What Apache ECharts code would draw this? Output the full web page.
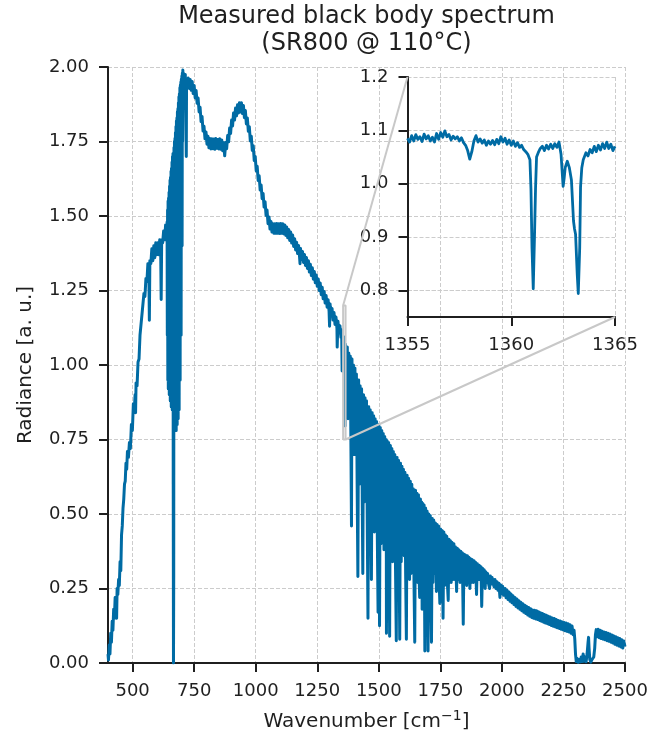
<!DOCTYPE html>
<html><head><meta charset="utf-8">
<script src="https://cdn.jsdelivr.net/npm/echarts@6/dist/echarts.min.js"></script>
<style>html,body{margin:0;padding:0;background:#fff}#c{width:649px;height:740px}</style>
</head><body><div id="c"></div>
<script>
// ---------------- data (wavenumber [cm-1], radiance [a.u.]) ----------------
const xTickValues = [500, 750, 1000, 1250, 1500, 1750, 2000, 2250, 2500];
const insetXTickValues = [1355, 1360, 1365];
const insetYTickValues = [0.8, 0.9, 1.0, 1.1, 1.2];
const zoomWindowWn = [1355, 1365];
const zoomWindowRad = [0.75, 1.2];

const spectrumRise = [[400,0.03],[402,0.01],[405,0.06],[408,0.03],[411,0.10],[414,0.07],[417,0.14],[420,0.11],[423,0.18],[426,0.15],[429,0.22],[432,0.19],[435,0.15],[437,0.25],[440,0.23],[443,0.28],[446,0.26],[449,0.34],[452,0.31],[455,0.43],[458,0.46],[461,0.52],[464,0.55],[467,0.60],[470,0.61],[473,0.67],[476,0.65],[479,0.71],[483,0.69],[487,0.74],[491,0.72],[495,0.80],[499,0.78],[503,0.87],[507,0.85],[510,0.90],[512,0.84],[514,0.94],[518,0.93],[522,1.01],[526,1.02],[530,1.10],[534,1.10],[538,1.17],[542,1.17],[546,1.24],[550,1.23],[554,1.29],[558,1.28],[562,1.34],[566,1.31],[568,1.15],[570,1.35],[574,1.34],[578,1.39],[582,1.35],[586,1.40],[590,1.36],[594,1.41],[598,1.37],[602,1.41],[606,1.37],[610,1.42],[614,1.38],[616,1.22],[618,1.42],[622,1.41],[626,1.45],[630,1.42],[634,1.47],[638,1.44]];

const spectrumCO2Bend = [[640,1.48],[641,1.10],[642,1.52],[643,0.95],[644,1.55],[645,0.92],[646,1.56],[647,1.20],[648,1.58],[649,0.90],[650,1.60],[651,1.00],[652,1.62],[653,0.88],[654,1.63],[655,1.05],[656,1.65],[657,0.86],[658,1.66],[659,1.10],[660,1.68],[661,0.85],[662,1.70],[663,0.95],[664,1.71],[665,0.60],[666,0.00],[667,0.30],[668,1.73],[669,0.82],[670,1.75],[671,0.90],[672,1.76],[673,0.80],[674,1.78],[675,1.00],[676,1.80],[677,0.78],[678,1.82],[679,0.95],[680,1.83],[681,0.80],[682,1.85],[683,1.05],[684,1.86],[685,0.82],[686,1.88],[687,1.10],[688,1.90],[689,0.85],[690,1.91],[691,1.20],[692,1.93],[693,0.95],[694,1.94],[695,1.35],[696,1.95],[697,1.10],[698,1.96],[699,1.55],[700,1.97],[701,1.40],[702,1.98],[703,1.75],[704,1.99],[705,1.90]];

const spectrumPeaks = [[706,1.980],[710,1.946],[714,1.975],[718,1.700],[719,1.950],[722,1.936],[726,1.963],[730,1.928],[734,1.958],[738,1.922],[742,1.951],[746,1.911],[750,1.938],[754,1.896],[758,1.921],[762,1.878],[766,1.896],[770,1.849],[774,1.865],[778,1.817],[782,1.834],[786,1.785],[790,1.801],[794,1.759],[798,1.782],[802,1.741],[806,1.768],[810,1.729],[814,1.760],[818,1.725],[822,1.759],[826,1.726],[830,1.758],[834,1.724],[838,1.760],[842,1.727],[846,1.757],[850,1.725],[854,1.759],[858,1.724],[862,1.755],[866,1.719],[870,1.746],[874,1.702],[878,1.747],[882,1.726],[886,1.770],[890,1.749],[894,1.795],[898,1.777],[902,1.822],[906,1.802],[910,1.846],[914,1.822],[918,1.862],[922,1.836],[926,1.873],[930,1.846],[934,1.880],[938,1.849],[942,1.880],[946,1.844],[950,1.871],[954,1.830],[958,1.854],[962,1.809],[966,1.829],[970,1.784],[974,1.800],[978,1.752],[982,1.768],[986,1.720],[990,1.736],[994,1.686],[998,1.700],[1002,1.651],[1006,1.667],[1010,1.619],[1014,1.635],[1018,1.587],[1022,1.604],[1026,1.558],[1030,1.576],[1034,1.530],[1038,1.548],[1042,1.502],[1046,1.520],[1050,1.474],[1054,1.497],[1058,1.456],[1062,1.482],[1066,1.446],[1070,1.474],[1074,1.442],[1078,1.474],[1082,1.442],[1086,1.475],[1090,1.442],[1094,1.474],[1098,1.441],[1102,1.475],[1106,1.442],[1110,1.474],[1114,1.440],[1118,1.470],[1122,1.435],[1126,1.463],[1130,1.427],[1134,1.455],[1138,1.418],[1142,1.446],[1146,1.409],[1150,1.436],[1154,1.398],[1158,1.424],[1162,1.386],[1166,1.412],[1170,1.374],[1174,1.401],[1178,1.364],[1180,1.340],[1182,1.391],[1186,1.354],[1190,1.381],[1194,1.344],[1198,1.371],[1202,1.334],[1206,1.361],[1210,1.324],[1214,1.350],[1218,1.312],[1222,1.338],[1226,1.300],[1230,1.326],[1234,1.288],[1238,1.314],[1242,1.276],[1246,1.302],[1250,1.264],[1254,1.289],[1258,1.250],[1262,1.275],[1266,1.236],[1270,1.261],[1274,1.222],[1278,1.247],[1282,1.208],[1286,1.233],[1290,1.194],[1294,1.219],[1298,1.180],[1300,1.130],[1302,1.205],[1306,1.165],[1310,1.190],[1314,1.151],[1318,1.176],[1322,1.136],[1326,1.161],[1330,1.122],[1331,1.060],[1334,1.147],[1338,1.108],[1342,1.132],[1346,1.093],[1349,1.118],[1351,0.980],[1353,1.079]];

const spectrumZoomRange = [[1355,1.085],[1357,1.095],[1358,1.046],[1359,1.080],[1360,1.072],[1361,0.803],[1362,1.070],[1362.5,0.995],[1363.2,0.795],[1364,1.070],[1365,1.068]];

const spectrumWater = [[1366,1.07],[1369,0.95],[1372,1.06],[1375,0.82],[1378,1.04],[1381,0.92],[1384,1.03],[1387,0.70],[1389,0.46],[1391,1.02],[1394,0.78],[1397,1.00],[1400,0.70],[1403,0.99],[1406,0.70],[1409,0.97],[1412,0.60],[1415,0.29],[1418,0.95],[1421,0.60],[1424,0.93],[1427,0.64],[1430,0.92],[1433,0.52],[1435,0.30],[1438,0.90],[1441,0.54],[1444,0.89],[1447,0.57],[1450,0.88],[1453,0.48],[1456,0.15],[1459,0.86],[1462,0.50],[1465,0.85],[1468,0.46],[1470,0.28],[1473,0.84],[1476,0.47],[1479,0.83],[1482,0.44],[1485,0.82],[1488,0.47],[1491,0.81],[1494,0.42],[1497,0.17],[1500,0.80],[1503,0.125],[1506,0.79],[1509,0.40],[1512,0.78],[1515,0.42],[1518,0.77],[1521,0.38],[1524,0.76],[1527,0.40],[1530,0.75],[1531,0.10],[1534,0.745],[1537,0.37],[1540,0.74],[1542,0.34],[1544,0.09],[1547,0.73],[1550,0.38],[1553,0.72],[1556,0.34],[1559,0.71],[1562,0.36],[1565,0.70],[1568,0.31],[1571,0.075],[1574,0.69],[1577,0.34],[1580,0.68],[1583,0.30],[1585,0.08],[1588,0.67],[1591,0.34],[1594,0.66],[1597,0.48],[1600,0.65],[1603,0.36],[1606,0.64],[1609,0.30],[1612,0.08],[1615,0.63],[1618,0.31],[1621,0.62],[1625,0.28],[1628,0.61],[1631,0.30],[1634,0.60],[1637,0.32],[1640,0.585],[1643,0.27],[1646,0.07],[1649,0.58],[1652,0.28],[1655,0.57],[1658,0.27],[1661,0.565],[1664,0.28],[1666,0.22],[1669,0.55],[1672,0.27],[1674,0.54],[1676,0.18],[1679,0.535],[1682,0.26],[1684,0.53],[1687,0.04],[1690,0.52],[1693,0.27],[1696,0.51],[1698,0.24],[1700,0.04],[1703,0.50],[1706,0.26],[1709,0.495],[1711,0.25],[1714,0.07],[1717,0.485],[1720,0.27],[1723,0.48],[1727,0.30],[1730,0.47],[1734,0.24],[1737,0.465],[1740,0.26],[1743,0.46],[1746,0.25],[1748,0.20],[1751,0.45],[1754,0.27],[1757,0.445],[1761,0.15],[1764,0.44],[1767,0.26],[1770,0.43],[1773,0.27],[1776,0.425],[1779,0.26],[1782,0.21],[1785,0.415],[1788,0.27],[1791,0.41],[1794,0.27],[1797,0.405],[1802,0.28],[1805,0.40],[1808,0.28],[1811,0.39],[1816,0.24],[1819,0.385],[1822,0.28],[1825,0.38],[1830,0.27],[1833,0.375],[1836,0.28],[1839,0.37],[1843,0.13],[1846,0.365],[1849,0.27],[1852,0.362],[1857,0.26],[1860,0.36],[1863,0.28],[1866,0.355],[1870,0.25],[1873,0.35],[1876,0.27],[1879,0.347],[1884,0.27],[1887,0.343],[1890,0.28],[1893,0.338],[1897,0.23],[1900,0.333],[1904,0.28],[1908,0.328],[1912,0.28],[1915,0.323],[1918,0.19],[1921,0.318],[1925,0.27],[1928,0.313],[1932,0.25],[1935,0.305],[1939,0.27],[1942,0.300],[1946,0.265],[1950,0.25],[1953,0.292],[1957,0.265],[1960,0.287]];

const spectrumTail = [[1964,0.285],[1968,0.256],[1972,0.280],[1976,0.250],[1980,0.273],[1984,0.244],[1988,0.268],[1992,0.220],[1995,0.262],[1999,0.232],[2003,0.258],[2007,0.227],[2010,0.240],[2013,0.250],[2017,0.219],[2021,0.244],[2025,0.213],[2029,0.238],[2033,0.207],[2037,0.232],[2041,0.202],[2045,0.226],[2049,0.196],[2053,0.220],[2057,0.190],[2061,0.215],[2065,0.185],[2069,0.209],[2073,0.180],[2077,0.204],[2081,0.175],[2085,0.199],[2089,0.170],[2093,0.194],[2097,0.166],[2101,0.190],[2105,0.161],[2109,0.186],[2113,0.157],[2117,0.182],[2121,0.153],[2125,0.178],[2129,0.150],[2133,0.177],[2137,0.148],[2141,0.175],[2145,0.146],[2149,0.172],[2153,0.143],[2157,0.169],[2161,0.140],[2165,0.166],[2169,0.137],[2173,0.163],[2177,0.134],[2181,0.160],[2185,0.132],[2189,0.157],[2193,0.129],[2197,0.154],[2201,0.126],[2205,0.151],[2209,0.123],[2213,0.149],[2217,0.121],[2221,0.146],[2225,0.118],[2229,0.143],[2233,0.116],[2237,0.141],[2241,0.113],[2245,0.138],[2249,0.111],[2253,0.136],[2257,0.108],[2261,0.134],[2265,0.106],[2269,0.132],[2273,0.104],[2277,0.128],[2281,0.100],[2285,0.124],[2289,0.095],[2293,0.110],[2296,0.080]];

const spectrumCO2Stretch = [[2299,0.03],[2302,0.005],[2306,0.015],[2310,0.002],[2314,0.012],[2318,0.004],[2322,0.02],[2326,0.005],[2330,0.03],[2334,0.006],[2338,0.02],[2342,0.004],[2346,0.03],[2350,0.07],[2352,0.086],[2354,0.05],[2357,0.012],[2361,0.003],[2365,0.01],[2369,0.004],[2373,0.02],[2377,0.05],[2380,0.095]];

const spectrumEnd = [[2383,0.112],[2387,0.088],[2391,0.113],[2395,0.085],[2399,0.110],[2403,0.082],[2407,0.107],[2411,0.080],[2415,0.104],[2419,0.078],[2423,0.102],[2427,0.075],[2431,0.100],[2435,0.073],[2439,0.097],[2443,0.070],[2447,0.094],[2451,0.067],[2455,0.091],[2459,0.063],[2463,0.088],[2467,0.060],[2471,0.085],[2475,0.057],[2479,0.082],[2483,0.054],[2487,0.078],[2491,0.050],[2495,0.074],[2500,0.055]];

const insetSpectrum = [[1355.0,1.085],[1355.1,1.078],[1355.2,1.090],[1355.3,1.080],[1355.4,1.092],[1355.5,1.083],[1355.6,1.088],[1355.7,1.079],[1355.8,1.093],[1355.9,1.084],[1356.0,1.090],[1356.1,1.080],[1356.2,1.087],[1356.3,1.078],[1356.4,1.094],[1356.5,1.083],[1356.6,1.096],[1356.7,1.087],[1356.8,1.099],[1356.9,1.088],[1357.0,1.092],[1357.1,1.082],[1357.2,1.089],[1357.3,1.084],[1357.4,1.088],[1357.5,1.080],[1357.6,1.086],[1357.7,1.077],[1357.8,1.072],[1357.9,1.062],[1358.0,1.046],[1358.1,1.060],[1358.2,1.080],[1358.3,1.090],[1358.4,1.078],[1358.5,1.084],[1358.6,1.076],[1358.7,1.082],[1358.8,1.072],[1358.9,1.080],[1359.0,1.074],[1359.1,1.081],[1359.2,1.073],[1359.3,1.083],[1359.4,1.075],[1359.5,1.088],[1359.6,1.078],[1359.7,1.085],[1359.8,1.074],[1359.9,1.082],[1360.0,1.072],[1360.1,1.080],[1360.2,1.070],[1360.3,1.077],[1360.4,1.068],[1360.5,1.072],[1360.6,1.064],[1360.7,1.060],[1360.8,1.055],[1360.9,1.045],[1360.95,0.99],[1361.0,0.88],[1361.06,0.803],[1361.12,0.90],[1361.17,0.99],[1361.22,1.05],[1361.3,1.058],[1361.4,1.066],[1361.5,1.070],[1361.6,1.062],[1361.7,1.072],[1361.8,1.065],[1361.9,1.074],[1362.0,1.066],[1362.1,1.075],[1362.2,1.068],[1362.3,1.078],[1362.4,1.055],[1362.5,0.995],[1362.55,1.010],[1362.6,1.030],[1362.7,1.042],[1362.8,1.030],[1362.9,1.007],[1363.0,0.930],[1363.05,0.915],[1363.1,0.905],[1363.18,0.830],[1363.23,0.794],[1363.3,0.880],[1363.34,0.994],[1363.4,1.030],[1363.47,1.045],[1363.6,1.058],[1363.7,1.052],[1363.8,1.064],[1363.9,1.058],[1364.0,1.070],[1364.1,1.060],[1364.2,1.072],[1364.3,1.063],[1364.4,1.075],[1364.5,1.066],[1364.6,1.078],[1364.7,1.066],[1364.8,1.074],[1364.9,1.062],[1365.0,1.070]];

// ---------------- chart ----------------
const spectrum = [].concat(spectrumRise, spectrumCO2Bend, spectrumPeaks, spectrumZoomRange,
  spectrumWater, spectrumTail, spectrumCO2Stretch, spectrumEnd);
const zoomBox = [
  [zoomWindowWn[0], zoomWindowRad[0]], [zoomWindowWn[1], zoomWindowRad[0]],
  [zoomWindowWn[1], zoomWindowRad[1]], [zoomWindowWn[0], zoomWindowRad[1]],
  [zoomWindowWn[0], zoomWindowRad[0]]
];

const FONT = 'DejaVu Sans';
const INK = '#1f1f1f';
const BLUE = '#006BA4';
const GRIDC = '#cccccc';
const INSET_EDGE = '#c8c8c8';

const chart = echarts.init(document.getElementById('c'), null, {renderer: 'canvas'});

function axisCommon(extra) {
  return Object.assign({
    type: 'value',
    axisLine: {show: true, onZero: false, lineStyle: {color: INK, width: 2}},
    axisTick: {show: true, inside: false, length: 9, lineStyle: {color: INK, width: 2}},
    splitLine: {show: true, lineStyle: {color: GRIDC, width: 1, type: [4, 2]}},
    axisLabel: {fontFamily: FONT, fontSize: 18, color: INK},
  }, extra);
}
const plain = v => String(v);

const option = {
  animation: false,
  backgroundColor: '#ffffff',
  title: {
    text: 'Measured black body spectrum\n(SR800 @ 110°C)',
    left: 366.5, top: 3, padding: 0, textAlign: 'center',
    textStyle: {fontFamily: FONT, fontSize: 24, fontWeight: 'normal', color: INK, lineHeight: 27}
  },
  grid: [
    {left: 108, top: 67, width: 517, height: 596, outerBoundsMode: 'none', containLabel: false},
    {left: 407.5, top: 77, width: 207.5, height: 240, outerBoundsMode: 'none', containLabel: false}
  ],
  xAxis: [
    axisCommon({
      gridIndex: 0, min: 400, max: 2500,
      axisTick: {show: true, length: 9, customValues: xTickValues, lineStyle: {color: INK, width: 2}},
      axisLabel: {customValues: xTickValues, fontFamily: FONT, fontSize: 18, color: INK, margin: 19, formatter: plain},
      name: 'Wavenumber [cm{sup|−1}]', nameLocation: 'middle', nameGap: 46,
      nameTextStyle: {fontFamily: FONT, fontSize: 20, color: INK, lineHeight: 26,
        rich: {sup: {fontFamily: FONT, fontSize: 14, color: INK, verticalAlign: 'top', lineHeight: 16}}}
    }),
    axisCommon({
      gridIndex: 1, min: zoomWindowWn[0], max: zoomWindowWn[1],
      axisTick: {show: true, length: 9, customValues: insetXTickValues, lineStyle: {color: INK, width: 2}},
      axisLabel: {customValues: insetXTickValues, fontFamily: FONT, fontSize: 18, color: INK, margin: 19, formatter: plain}
    })
  ],
  yAxis: [
    axisCommon({
      gridIndex: 0, min: 0, max: 2, interval: 0.25,
      axisLabel: {fontFamily: FONT, fontSize: 18, color: INK, margin: 19, formatter: v => v.toFixed(2)},
      name: 'Radiance [a. u.]', nameLocation: 'middle', nameGap: 72,
      nameTextStyle: {fontFamily: FONT, fontSize: 20, color: INK}
    }),
    axisCommon({
      gridIndex: 1, min: zoomWindowRad[0], max: zoomWindowRad[1],
      axisTick: {show: true, length: 9, customValues: insetYTickValues, lineStyle: {color: INK, width: 2}},
      axisLabel: {customValues: insetYTickValues, fontFamily: FONT, fontSize: 18, color: INK, margin: 19, formatter: v => v.toFixed(1)}
    })
  ],
  series: [
    {type: 'line', xAxisIndex: 0, yAxisIndex: 0, data: spectrum, symbol: 'none', showSymbol: false,
     lineStyle: {color: BLUE, width: 3, join: 'round'}, z: 2, silent: true, clip: true},
    {type: 'line', xAxisIndex: 0, yAxisIndex: 0, data: zoomBox, symbol: 'none', showSymbol: false,
     lineStyle: {color: INSET_EDGE, width: 2}, z: 6, silent: true},
    {type: 'line', xAxisIndex: 1, yAxisIndex: 1, data: insetSpectrum, symbol: 'none', showSymbol: false,
     lineStyle: {color: BLUE, width: 2.8, join: 'round'}, z: 3, silent: true, clip: true}
  ]
};
chart.setOption(option);

// connector lines between the zoom box (main axes) and the inset corners
const a1 = chart.convertToPixel({gridIndex: 0}, [zoomWindowWn[0], zoomWindowRad[1]]);
const b1 = chart.convertToPixel({gridIndex: 1}, [zoomWindowWn[0], zoomWindowRad[1]]);
const a2 = chart.convertToPixel({gridIndex: 0}, [zoomWindowWn[1], zoomWindowRad[0]]);
const b2 = chart.convertToPixel({gridIndex: 1}, [zoomWindowWn[1], zoomWindowRad[0]]);
chart.setOption({
  graphic: [
    {type: 'line', z: 100, silent: true, shape: {x1: a1[0], y1: a1[1], x2: b1[0], y2: b1[1]}, style: {stroke: INSET_EDGE, lineWidth: 2}},
    {type: 'line', z: 100, silent: true, shape: {x1: a2[0], y1: a2[1], x2: b2[0], y2: b2[1]}, style: {stroke: INSET_EDGE, lineWidth: 2}}
  ]
});
</script>
</body></html>
